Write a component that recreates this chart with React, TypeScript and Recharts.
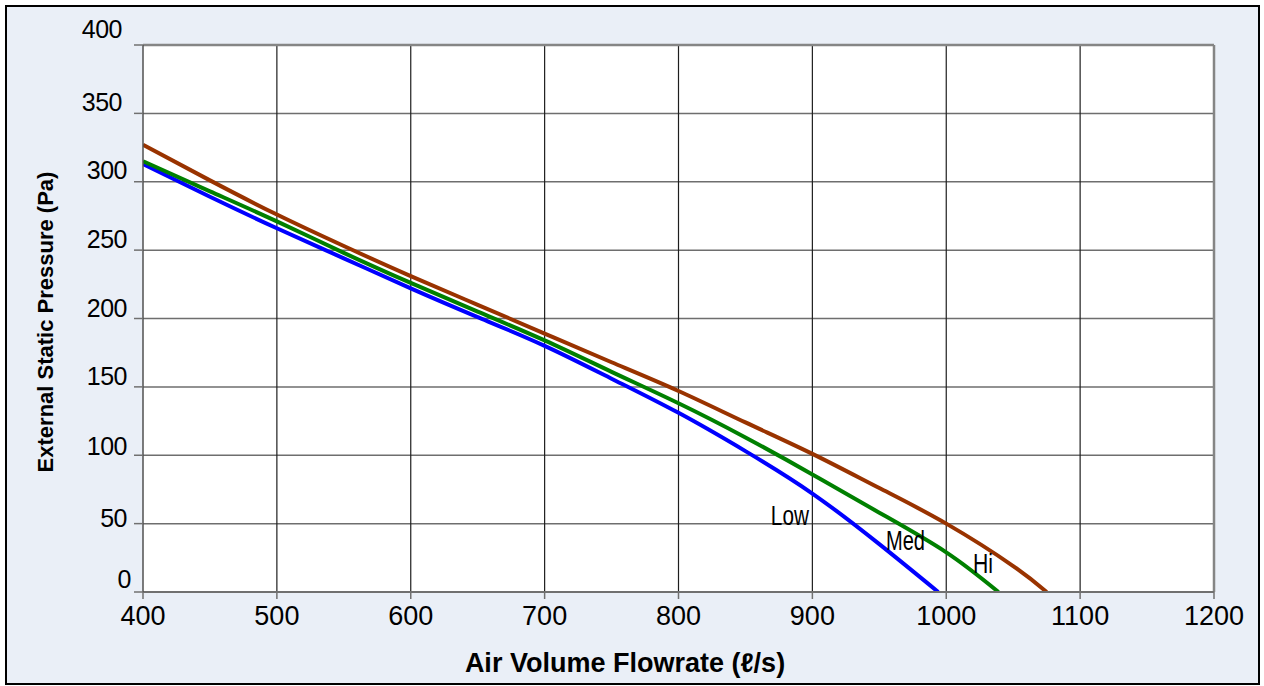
import React from "react";
import {
  LineChart,
  Line,
  XAxis,
  YAxis,
  CartesianGrid,
  ReferenceLine,
  ReferenceDot,
} from "recharts";

// Fan curves: external static pressure (Pa) against air volume flowrate (l/s)
const flowLow = [400, 450, 500, 550, 600, 650, 700, 750, 800, 850, 900, 950, 994];
const pressureLow = [313, 289, 266, 244, 222, 201, 180, 156, 131, 103, 72, 35, 0];

const flowMed = [400, 450, 500, 550, 600, 650, 700, 750, 800, 850, 900, 950, 1000, 1039];
const pressureMed = [315, 293, 271, 248, 226, 205, 184, 161, 138, 113, 86, 58, 29, 0];

const flowHi = [400, 450, 500, 550, 600, 650, 700, 750, 800, 850, 900, 950, 1000, 1050, 1075];
const pressureHi = [327, 301, 276, 253, 231, 210, 189, 168, 147, 124, 101, 76, 50, 19, 0];

const xTicks = [400, 500, 600, 700, 800, 900, 1000, 1100, 1200];
const yTicks = [0, 50, 100, 150, 200, 250, 300, 350, 400];

const toPoints = (xs: number[], ys: number[]) =>
  xs.map((q, i) => ({ q, p: ys[i] }));

const lowData = toPoints(flowLow, pressureLow);
const medData = toPoints(flowMed, pressureMed);
const hiData = toPoints(flowHi, pressureHi);

const FONT = "Arial, 'Liberation Sans', sans-serif";

// small per-label nudges for the value axis text
const yTickNudge: Record<number, [number, number]> = {
  400: [-5, -7],
  350: [-5, -2],
  300: [0, -3],
  250: [0, -2],
  200: [0, -2],
  150: [0, -2],
  100: [0, 0],
  50: [0, 3],
  0: [4, -4],
};

const YTick = (props: any) => {
  const { y, payload } = props;
  const [dx, dy] = yTickNudge[payload.value] || [0, 0];
  return (
    <text
      x={127 + dx}
      y={y + dy}
      textAnchor="end"
      fontFamily={FONT}
      fontSize={25}
      letterSpacing={-0.5}
      fill="#000"
    >
      {payload.value}
    </text>
  );
};

const XTick = (props: any) => {
  const { x, payload } = props;
  return (
    <text
      x={x}
      y={625}
      textAnchor="middle"
      fontFamily={FONT}
      fontSize={27}
      fill="#000"
    >
      {payload.value}
    </text>
  );
};

const curveLabel = (text: string, width: number) => (p: any) => {
  const vb = p.viewBox || {};
  return (
    <text
      x={vb.x}
      y={vb.y}
      textAnchor="start"
      fontFamily={FONT}
      fontSize={27}
      textLength={width}
      lengthAdjust="spacingAndGlyphs"
      fill="#000"
    >
      {text}
    </text>
  );
};

export default function App() {
  return (
    <div
      style={{
        position: "absolute",
        left: 0,
        top: 0,
        width: 1264,
        height: 686,
        background: "#fff",
      }}
    >
      <div
        style={{
          position: "absolute",
          left: 5,
          top: 5,
          width: 1255,
          height: 680,
          boxSizing: "border-box",
          border: "2px solid #000",
          background: "#EAEFF7",
        }}
      />
      <div style={{ position: "absolute", left: 0, top: 0 }}>
        <LineChart
          width={1264}
          height={686}
          margin={{ top: 45, right: 50, bottom: 0, left: 0 }}
        >
          <CartesianGrid
            fill="#fff"
            vertical={false}
            stroke="#6e6e6e"
            strokeWidth={1.5}
            strokeDasharray=""
          />
          {xTicks.slice(1, -1).map((v) => (
            <ReferenceLine key={v} x={v} stroke="#1e1e1e" strokeWidth={1.2} />
          ))}
          <XAxis
            type="number"
            dataKey="q"
            domain={[400, 1200]}
            ticks={xTicks}
            allowDataOverflow
            height={94}
            axisLine={{ stroke: "#707070", strokeWidth: 2 }}
            tickLine={{ stroke: "#707070", strokeWidth: 1.5 }}
            tickSize={7}
            tick={<XTick />}
            label={{
              content: () => (
                <text
                  x={625}
                  y={672}
                  textAnchor="middle"
                  fontFamily={FONT}
                  fontSize={27}
                  fontWeight="bold"
                  fill="#000"
                >
                  Air Volume Flowrate (ℓ/s)
                </text>
              ),
            }}
          />
          <YAxis
            type="number"
            dataKey="p"
            domain={[0, 400]}
            ticks={yTicks}
            allowDataOverflow
            width={143}
            axisLine={{ stroke: "#505050", strokeWidth: 1.5 }}
            tickLine={{ stroke: "#707070", strokeWidth: 1.5 }}
            tickSize={9}
            tick={<YTick />}
            label={{
              content: () => (
                <text
                  x={53}
                  y={322}
                  transform="rotate(-90 53 322)"
                  textAnchor="middle"
                  fontFamily={FONT}
                  fontSize={22}
                  fontWeight="bold"
                  fill="#000"
                >
                  External Static Pressure (Pa)
                </text>
              ),
            }}
          />
          <ReferenceLine y={400} stroke="#858585" strokeWidth={2.5} />
          <ReferenceLine x={1200} stroke="#858585" strokeWidth={2.5} />
          <Line
            data={lowData}
            dataKey="p"
            type="natural"
            stroke="#0000FF"
            strokeWidth={4}
            dot={false}
            isAnimationActive={false}
          />
          <Line
            data={medData}
            dataKey="p"
            type="natural"
            stroke="#008000"
            strokeWidth={4}
            dot={false}
            isAnimationActive={false}
          />
          <Line
            data={hiData}
            dataKey="p"
            type="natural"
            stroke="#993300"
            strokeWidth={4}
            dot={false}
            isAnimationActive={false}
          />
          <ReferenceDot
            x={869}
            y={49}
            r={0}
            fill="none"
            stroke="none"
            label={{ content: curveLabel("Low", 38) }}
          />
          <ReferenceDot
            x={955}
            y={31}
            r={0}
            fill="none"
            stroke="none"
            label={{ content: curveLabel("Med", 39) }}
          />
          <ReferenceDot
            x={1020}
            y={14}
            r={0}
            fill="none"
            stroke="none"
            label={{ content: curveLabel("Hi", 20) }}
          />
        </LineChart>
      </div>
    </div>
  );
}
